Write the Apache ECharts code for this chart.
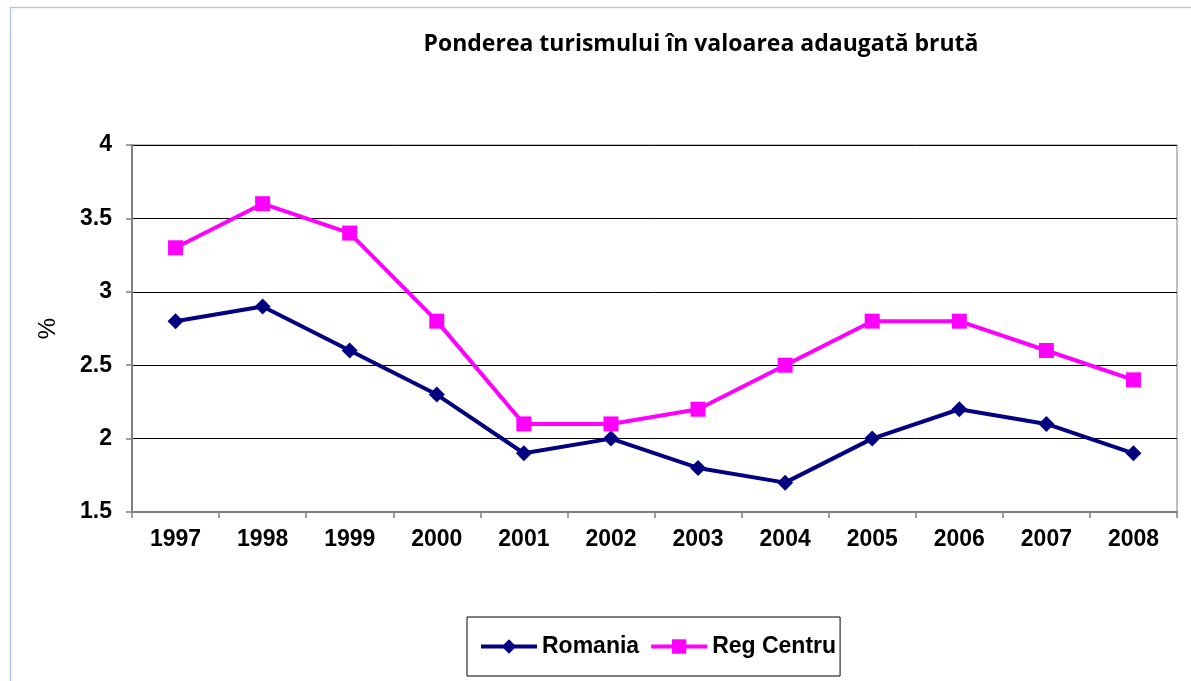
<!DOCTYPE html>
<html>
<head>
<meta charset="utf-8">
<script src="https://cdn.jsdelivr.net/npm/echarts@6/dist/echarts.min.js"></script>
<style>
html,body{margin:0;padding:0;background:#fff;}
#chart{width:1191px;height:681px;}
</style>
</head>
<body>
<div id="chart"></div>
<script>
const years = ['1997','1998','1999','2000','2001','2002','2003','2004','2005','2006','2007','2008'];
const romania = [2.8, 2.9, 2.6, 2.3, 1.9, 2.0, 1.8, 1.7, 2.0, 2.2, 2.1, 1.9];
const regCentru = [3.3, 3.6, 3.4, 2.8, 2.1, 2.1, 2.2, 2.5, 2.8, 2.8, 2.6, 2.4];
const titleText = 'Ponderea turismului în valoarea adaugată brută';
const yAxisName = '%';

const chart = echarts.init(document.getElementById('chart'), null, {renderer: 'canvas'});
const axisFont = {fontFamily: 'Liberation Sans, Arial, sans-serif', fontWeight: 'bold', fontSize: 23, color: '#000'};
chart.setOption({
  backgroundColor: '#fff',
  animation: false,
  graphic: [{
    type: 'rect', left: 8, top: 5, shape: {x: 0, y: 0, width: 1200, height: 700},
    style: {fill: 'none', stroke: '#b3cae6', lineWidth: 1.5}, z: -1
  }],
  title: {
    text: titleText, left: 696, top: 28, textAlign: 'center',
    textStyle: {fontFamily: 'Open Sans, sans-serif', fontWeight: 'bold', fontSize: 23, color: '#000'}
  },
  grid: {left: 132, right: 14, top: 145, bottom: 169, show: true, borderColor: '#808080', borderWidth: 1, backgroundColor: 'transparent'},
  legend: {
    left: 467, top: 617, orient: 'horizontal',
    padding: [18, 4, 18, 12], itemGap: 10, itemWidth: 56, itemHeight: 18,
    borderColor: '#000', borderWidth: 1,
    textStyle: Object.assign({}, axisFont, {fontSize: 23}),
    lineStyle: {width: 4},
    data: ['Romania', 'Reg Centru']
  },
  xAxis: {
    type: 'category', data: years, boundaryGap: true,
    axisLine: {lineStyle: {color: '#808080', width: 2}},
    axisTick: {show: true, length: 6, lineStyle: {color: '#808080', width: 1.5}},
    axisLabel: Object.assign({margin: 16}, axisFont),
    splitLine: {show: false}
  },
  yAxis: {
    type: 'value', min: 1.5, max: 4, interval: 0.5,
    name: yAxisName, nameLocation: 'middle', nameGap: 72, nameRotate: 90,
    nameTextStyle: {fontFamily: 'Liberation Sans, Arial, sans-serif', fontSize: 24, color: '#000'},
    axisLine: {show: true, lineStyle: {color: '#808080', width: 2}},
    axisTick: {show: true, length: 6, lineStyle: {color: '#808080', width: 1.5}},
    axisLabel: Object.assign({margin: 20}, axisFont),
    splitLine: {show: true, lineStyle: {color: '#000', width: 1}}
  },
  series: [
    {
      name: 'Romania', type: 'line', data: romania,
      symbol: 'diamond', symbolSize: 16, showSymbol: true,
      lineStyle: {color: '#000080', width: 4},
      itemStyle: {color: '#000080'}
    },
    {
      name: 'Reg Centru', type: 'line', data: regCentru,
      symbol: 'rect', symbolSize: 15,
      lineStyle: {color: '#ff00ff', width: 4},
      itemStyle: {color: '#ff00ff'}
    }
  ]
});
</script>
</body>
</html>
